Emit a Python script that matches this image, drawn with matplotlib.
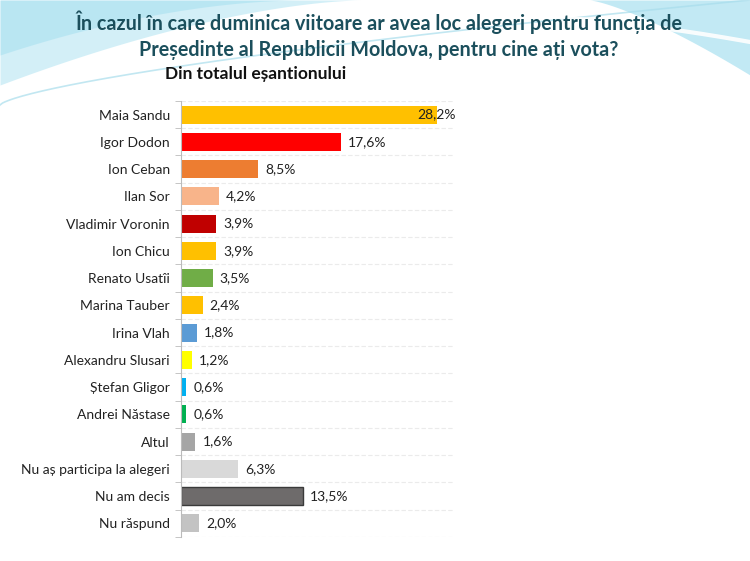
import numpy as np
import matplotlib.pyplot as plt

# date sondaj
candidati = ['Maia Sandu', 'Igor Dodon', 'Ion Ceban', 'Ilan Sor', 'Vladimir Voronin',
             'Ion Chicu', 'Renato Usatîi', 'Marina Tauber', 'Irina Vlah',
             'Alexandru Slusari', 'Ștefan Gligor', 'Andrei Năstase', 'Altul',
             'Nu aș participa la alegeri', 'Nu am decis', 'Nu răspund']
procente = [28.2, 17.6, 8.5, 4.2, 3.9, 3.9, 3.5, 2.4, 1.8, 1.2, 0.6, 0.6, 1.6, 6.3, 13.5, 2.0]
culori = ['#FFC000', '#FF0000', '#ED7D31', '#F8B48A', '#C00000', '#FFC000', '#70AD47',
          '#FFC000', '#5B9BD5', '#FFFF00', '#00B0F0', '#00B050', '#A5A5A5',
          '#D9D9D9', '#6E6B6B', '#C3C3C3']

plt.rcParams['font.family'] = ['Lato', 'DejaVu Sans']

fig = plt.figure(figsize=(7.5, 5.61), dpi=100)

# fundal cu valuri albastre sus
bg = fig.add_axes([0, 0, 1, 1], zorder=-1)
bg.set_xlim(0, 750)
bg.set_ylim(561, 0)
bg.axis('off')
x = np.linspace(0, 360, 200)
bg.fill_between(x, 0, 85 * (1 - x / 360) ** 1.6, color='#C8ECF6', alpha=0.8, lw=0)
x2 = np.linspace(0, 300, 200)
bg.fill_between(x2, 0, 55 * (1 - x2 / 300) ** 1.8, color='#9BDCEE', alpha=0.45, lw=0)
x3 = np.linspace(590, 750, 200)
bg.fill_between(x3, 0, 75 * ((x3 - 590) / 160) ** 1.3, color='#B3E4F2', alpha=0.8, lw=0)
x4 = np.linspace(0, 750, 300)
bg.plot(x4, 105 - 105 * (x4 / 750) ** 0.7, color='#A8DDEC', lw=1.2, alpha=0.7)
bg.plot(x4[x4 > 420], 12 + 30 * ((x4[x4 > 420] - 420) / 330) ** 2, color='white', lw=3, alpha=0.9)

fig.text(0.505, 0.961, 'În cazul în care duminica viitoare ar avea loc alegeri pentru funcția de',
         ha='center', va='center', fontsize=14.2, fontweight='bold', color='#1B4F5C')
fig.text(0.505, 0.911, 'Președinte al Republicii Moldova, pentru cine ați vota?',
         ha='center', va='center', fontsize=14.2, fontweight='bold', color='#1B4F5C')
fig.text(0.22, 0.868, 'Din totalul eșantionului', ha='left', va='center',
         fontsize=12.5, fontweight='bold', color='#111111')

ax = fig.add_axes([0.2413, 0.043, 0.3627, 0.777])
y = np.arange(len(candidati))
bars = ax.barh(y, procente, height=0.66, color=culori)
bars[-2].set_edgecolor('#3A3A3A')
bars[-2].set_linewidth(1)
ax.set_ylim(len(candidati) - 0.5, -0.5)
ax.set_xlim(0, 30)
ax.set_yticks(y)
ax.set_yticklabels(candidati, fontsize=10, color='#222222')
ax.set_yticks(np.arange(-0.5, len(candidati)), minor=True)
ax.tick_params(axis='y', which='major', length=0, pad=8)
ax.tick_params(axis='y', which='minor', length=4, color='#BBBBBB')
ax.set_xticks([])
for s in ['top', 'right', 'bottom']:
    ax.spines[s].set_visible(False)
ax.spines['left'].set_color('#BBBBBB')
for b in np.arange(-0.5, len(candidati)):
    ax.axhline(b, color='#EBEBEB', lw=0.8, ls=(0, (4, 2)), zorder=0)

for i, v in enumerate(procente):
    txt = f'{v:.1f}%'.replace('.', ',')
    off = -14 if i == 0 else 5
    ax.annotate(txt, (v, i), xytext=(off, 0), textcoords='offset points',
                ha='left', va='center', fontsize=10, color='#222222')

fig.savefig('out.png', dpi=100)
